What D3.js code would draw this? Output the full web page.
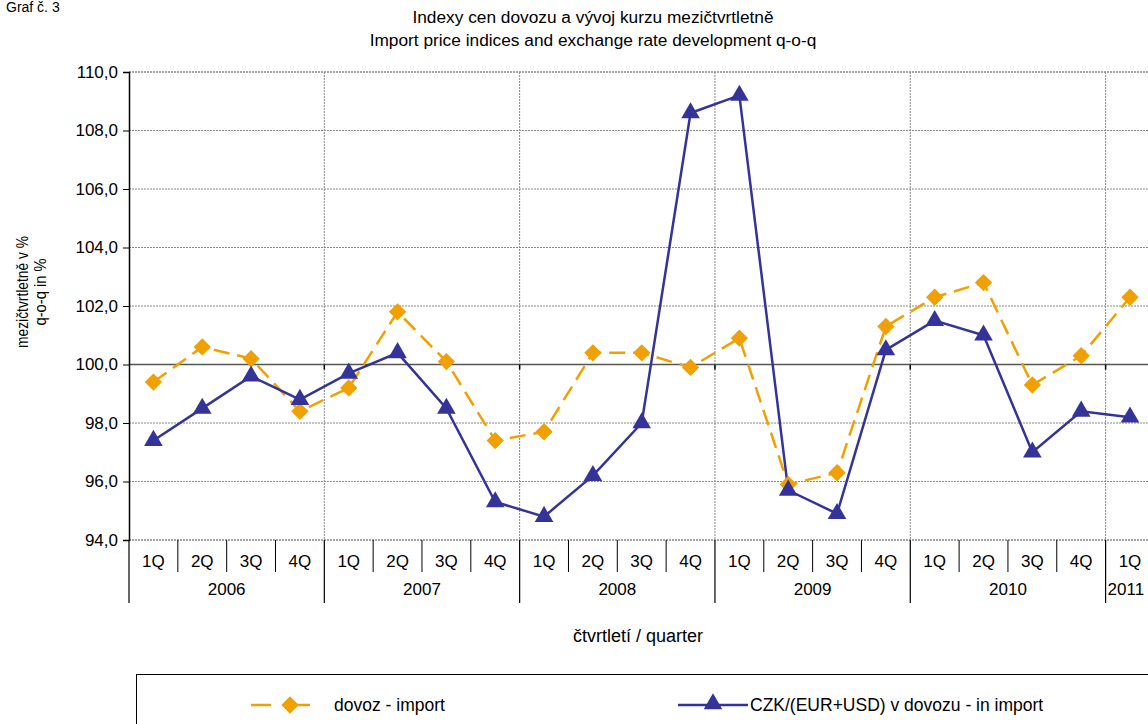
<!DOCTYPE html>
<html><head><meta charset="utf-8">
<script src="https://cdn.jsdelivr.net/npm/d3@7/dist/d3.min.js"></script>
<style>body{margin:0;background:#fff;}svg{display:block;font-family:"Liberation Sans",Arial,sans-serif;}</style>
</head><body><svg id="c" width="1148" height="724"></svg>
<script>
const years = ["2006","2007","2008","2009","2010","2011"];
const quarters = ["1Q","2Q","3Q","4Q"];
const categories = ["2006-1Q","2006-2Q","2006-3Q","2006-4Q","2007-1Q","2007-2Q","2007-3Q","2007-4Q","2008-1Q","2008-2Q","2008-3Q","2008-4Q","2009-1Q","2009-2Q","2009-3Q","2009-4Q","2010-1Q","2010-2Q","2010-3Q","2010-4Q","2011-1Q"];
const importValues = [99.4,100.6,100.2,98.4,99.2,101.8,100.1,97.4,97.7,100.4,100.4,99.9,100.9,95.9,96.3,101.3,102.3,102.8,99.3,100.3,102.3];
const fxValues = [97.4,98.5,99.6,98.8,99.7,100.4,98.5,95.3,94.8,96.2,98.0,108.6,109.2,95.7,94.9,100.5,101.5,101.0,97.0,98.4,98.2];
const yTicks = [94,96,98,100,102,104,106,108,110];

const svg = d3.select("#c");
const L = 129, T = 72, B = 540;
const bandW = 48.83;
const R = L + bandW*categories.length;
const x = d3.scaleBand().domain(categories).range([L, R]).padding(0);
const y = d3.scaleLinear().domain([94,110]).range([B, T]);

// title
svg.append("text").attr("x",6).attr("y",12).attr("font-size",14).attr("fill","#000").text("Graf č. 3");
svg.append("text").attr("x",593).attr("y",23).attr("text-anchor","middle").attr("font-size",17.3).text("Indexy cen dovozu a vývoj kurzu mezičtvrtletně");
svg.append("text").attr("x",593).attr("y",46).attr("text-anchor","middle").attr("font-size",17.3).text("Import price indices and exchange rate development q-o-q");

// horizontal grid
svg.append("g").selectAll("line").data(yTicks).join("line")
  .attr("x1",L).attr("x2",R).attr("y1",d=>y(d)).attr("y2",d=>y(d))
  .attr("stroke",d=> d===100 ? "#555" : "#888")
  .attr("stroke-width",d=> (d===100||d===110||d===94) ? 1.6 : 1)
  .attr("stroke-dasharray",d=> d===100 ? null : "2,1");

// vertical year grid lines
const yearStarts = years.map((yr)=>x(yr+"-1Q")).filter(v=>v!==undefined && v>L);
svg.append("g").selectAll("line").data(yearStarts).join("line")
  .attr("x1",d=>d).attr("x2",d=>d).attr("y1",T).attr("y2",B)
  .attr("stroke","#888").attr("stroke-dasharray","2,1");
// small ticks on 100 line
svg.append("g").selectAll("line").data(yearStarts).join("line")
  .attr("x1",d=>d).attr("x2",d=>d).attr("y1",y(100)).attr("y2",y(100)+5)
  .attr("stroke","#000").attr("stroke-width",1.5);

// y axis
const yAxis = d3.axisLeft(y).tickValues(yTicks).tickSize(6).tickFormat(d=>d3.format(".1f")(d).replace(".",","));
const gy = svg.append("g").attr("transform",`translate(${L},0)`).call(yAxis);
gy.select(".domain").attr("stroke","#000").attr("stroke-width",1.5);
gy.selectAll("text").attr("font-size",17).attr("fill","#000").attr("font-family","Liberation Sans, Arial, sans-serif").attr("dx",-2);
gy.selectAll(".tick line").attr("stroke","#000");

// y label
const yl = svg.append("text").attr("transform","translate(0,292) rotate(-90)").attr("text-anchor","middle").attr("font-size",16.5);
yl.append("tspan").attr("x",0).attr("y",28).attr("textLength",112).attr("lengthAdjust","spacingAndGlyphs").text("mezičtvrtletně v %");
yl.append("tspan").attr("x",0).attr("y",46).attr("textLength",67).attr("lengthAdjust","spacingAndGlyphs").text("q-o-q in %");

// x axis: quarter labels
const gx = svg.append("g");
gx.selectAll("text.q").data(categories).join("text").attr("class","q")
  .attr("x",d=>x(d)+bandW/2).attr("y",567).attr("text-anchor","middle").attr("font-size",17)
  .text(d=>d.split("-")[1]);
gx.selectAll("line.qs").data(categories.filter(d=>!d.endsWith("1Q"))).join("line").attr("class","qs")
  .attr("x1",d=>x(d)).attr("x2",d=>x(d)).attr("y1",B).attr("y2",572).attr("stroke","#000");
gx.selectAll("line.ys").data(years.map(yr=>x(yr+"-1Q"))).join("line").attr("class","ys")
  .attr("x1",d=>d).attr("x2",d=>d).attr("y1",B).attr("y2",603).attr("stroke","#000").attr("stroke-width",1.2);
gx.selectAll("text.y").data(years).join("text").attr("class","y")
  .attr("x",yr=>{const qs=categories.filter(c=>c.startsWith(yr)); return yr==="2011" ? x(qs[0])+2 : x(qs[0]) + qs.length*bandW/2;})
  .attr("text-anchor",yr=>yr==="2011"?"start":"middle")
  .attr("y",595).attr("font-size",17).text(d=>d);

svg.append("text").attr("x",638).attr("y",642).attr("text-anchor","middle").attr("font-size",18).text("čtvrtletí / quarter");

const orange = "#F0A000", blue = "#333399";
const cx = d=>x(d)+bandW/2;
const line = d3.line().x(d=>cx(d[0])).y(d=>y(d[1]));
const impData = categories.map((c,i)=>[c,importValues[i]]);
const fxData = categories.map((c,i)=>[c,fxValues[i]]);

svg.append("path").datum(impData).attr("d",line).attr("fill","none").attr("stroke",orange).attr("stroke-width",2.5).attr("stroke-dasharray","16,8");
svg.append("path").datum(fxData).attr("d",line).attr("fill","none").attr("stroke",blue).attr("stroke-width",2.5);

const diamond = d3.symbol().type(d3.symbolSquare).size(150);
svg.append("g").selectAll("path").data(impData).join("path")
  .attr("d",diamond).attr("transform",d=>`translate(${cx(d[0])},${y(d[1])}) rotate(45)`).attr("fill",orange);
const tri = d3.symbol().type(d3.symbolTriangle).size(150);
svg.append("g").selectAll("path").data(fxData).join("path")
  .attr("d",tri).attr("transform",d=>`translate(${cx(d[0])},${y(d[1])})`).attr("fill",blue);

// legend
svg.append("rect").attr("x",136.5).attr("y",674.5).attr("width",1100).attr("height",80).attr("fill","none").attr("stroke","#000");
const ly = 705;
svg.append("line").attr("x1",251).attr("x2",329).attr("y1",ly).attr("y2",ly).attr("stroke",orange).attr("stroke-width",2.5).attr("stroke-dasharray","20,19");
svg.append("path").attr("d",diamond).attr("transform",`translate(290,${ly}) rotate(45)`).attr("fill",orange);
svg.append("text").attr("x",334).attr("y",ly+6).attr("font-size",17.5).text("dovoz - import");
svg.append("line").attr("x1",678).attr("x2",748).attr("y1",ly).attr("y2",ly).attr("stroke",blue).attr("stroke-width",2.5);
svg.append("path").attr("d",tri).attr("transform",`translate(713,${ly-1})`).attr("fill",blue);
svg.append("text").attr("x",750).attr("y",ly+6).attr("font-size",17.5).text("CZK/(EUR+USD) v dovozu - in import");
</script></body></html>
